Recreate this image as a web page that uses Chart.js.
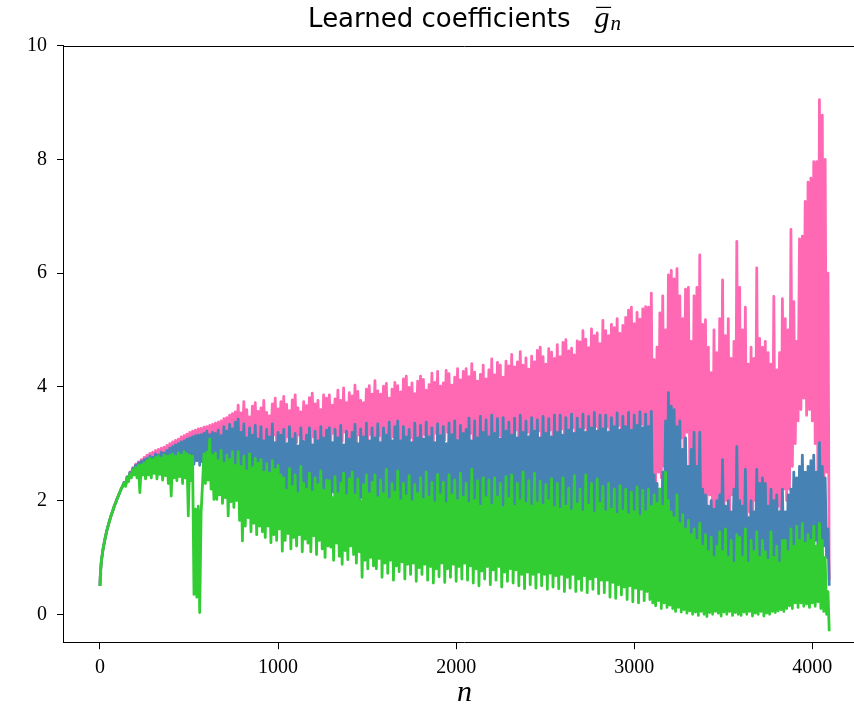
<!DOCTYPE html>
<html>
<head>
<meta charset="utf-8">
<script src="https://cdn.jsdelivr.net/npm/chart.js@4.4.0/dist/chart.umd.min.js"></script>
<style>
  html, body { margin: 0; padding: 0; background: #fff; overflow: hidden; width: 854px; height: 708px; }
  canvas { display: block; }
</style>
</head>
<body>
<canvas id="c" width="880" height="708"></canvas>
<script>
// index n of each coefficient
const nValues = [
  0, 2, 4,
  8, 16, 24, 32, 40, 48, 56, 64, 72, 80, 88, 96, 104, 112, 120, 128,
  136, 144, 152, 160, 168, 176, 184, 192, 200, 208, 216, 224, 232, 240, 248, 256,
  264, 272, 280, 288, 296, 304, 312, 320, 328, 336, 344, 352, 360, 368, 376, 384,
  392, 400, 408, 416, 424, 432, 440, 448, 456, 464, 472, 480, 488, 496, 504, 512,
  520, 528, 536, 544, 552, 560, 568, 576, 584, 592, 600, 608, 616, 624, 632, 640,
  648, 656, 664, 672, 680, 688, 696, 704, 712, 720, 728, 736, 744, 752, 760, 768,
  776, 784, 792, 800, 808, 816, 824, 832, 840, 848, 856, 864, 872, 880, 888, 896,
  904, 912, 920, 928, 936, 944, 952, 960, 968, 976, 984, 992, 1000, 1008, 1016, 1024,
  1032, 1040, 1048, 1056, 1064, 1072, 1080, 1088, 1096, 1104, 1112, 1120, 1128, 1136, 1144, 1152,
  1160, 1168, 1176, 1184, 1192, 1200, 1208, 1216, 1224, 1232, 1240, 1248, 1256, 1264, 1272, 1280,
  1288, 1296, 1304, 1312, 1320, 1328, 1336, 1344, 1352, 1360, 1368, 1376, 1384, 1392, 1400, 1408,
  1416, 1424, 1432, 1440, 1448, 1456, 1464, 1472, 1480, 1488, 1496, 1504, 1512, 1520, 1528, 1536,
  1544, 1552, 1560, 1568, 1576, 1584, 1592, 1600, 1608, 1616, 1624, 1632, 1640, 1648, 1656, 1664,
  1672, 1680, 1688, 1696, 1704, 1712, 1720, 1728, 1736, 1744, 1752, 1760, 1768, 1776, 1784, 1792,
  1800, 1808, 1816, 1824, 1832, 1840, 1848, 1856, 1864, 1872, 1880, 1888, 1896, 1904, 1912, 1920,
  1928, 1936, 1944, 1952, 1960, 1968, 1976, 1984, 1992, 2000, 2008, 2016, 2024, 2032, 2040, 2048,
  2056, 2064, 2072, 2080, 2088, 2096, 2104, 2112, 2120, 2128, 2136, 2144, 2152, 2160, 2168, 2176,
  2184, 2192, 2200, 2208, 2216, 2224, 2232, 2240, 2248, 2256, 2264, 2272, 2280, 2288, 2296, 2304,
  2312, 2320, 2328, 2336, 2344, 2352, 2360, 2368, 2376, 2384, 2392, 2400, 2408, 2416, 2424, 2432,
  2440, 2448, 2456, 2464, 2472, 2480, 2488, 2496, 2504, 2512, 2520, 2528, 2536, 2544, 2552, 2560,
  2568, 2576, 2584, 2592, 2600, 2608, 2616, 2624, 2632, 2640, 2648, 2656, 2664, 2672, 2680, 2688,
  2696, 2704, 2712, 2720, 2728, 2736, 2744, 2752, 2760, 2768, 2776, 2784, 2792, 2800, 2808, 2816,
  2824, 2832, 2840, 2848, 2856, 2864, 2872, 2880, 2888, 2896, 2904, 2912, 2920, 2928, 2936, 2944,
  2952, 2960, 2968, 2976, 2984, 2992, 3000, 3008, 3016, 3024, 3032, 3040, 3048, 3056, 3064, 3072,
  3080, 3088, 3096, 3104, 3112, 3120, 3128, 3136, 3144, 3152, 3160, 3168, 3176, 3184, 3192, 3200,
  3208, 3216, 3224, 3232, 3240, 3248, 3256, 3264, 3272, 3280, 3288, 3296, 3304, 3312, 3320, 3328,
  3336, 3344, 3352, 3360, 3368, 3376, 3384, 3392, 3400, 3408, 3416, 3424, 3432, 3440, 3448, 3456,
  3464, 3472, 3480, 3488, 3496, 3504, 3512, 3520, 3528, 3536, 3544, 3552, 3560, 3568, 3576, 3584,
  3592, 3600, 3608, 3616, 3624, 3632, 3640, 3648, 3656, 3664, 3672, 3680, 3688, 3696, 3704, 3712,
  3720, 3728, 3736, 3744, 3752, 3760, 3768, 3776, 3784, 3792, 3800, 3808, 3816, 3824, 3832, 3840,
  3848, 3856, 3864, 3872, 3880, 3888, 3896, 3904, 3912, 3920, 3928, 3936, 3944, 3952, 3960, 3968,
  3976, 3984, 3992, 4000, 4008, 4016, 4024, 4032, 4040, 4048, 4056, 4064, 4072, 4080, 4088,
  4095
];

// first series (pink)
const pinkValues = [
  0.50, 0.68, 0.78,
  0.94, 1.12, 1.26, 1.38, 1.49, 1.58, 1.67, 1.75, 1.82, 1.90, 1.96, 2.03, 2.09, 2.15, 2.21, 2.26,
  2.32, 2.28, 2.42, 2.38, 2.50, 2.46, 2.58, 2.52, 2.64, 2.58, 2.68, 2.62, 2.72, 2.64, 2.76, 2.68,
  2.80, 2.68, 2.83, 2.70, 2.85, 2.66, 2.88, 2.72, 2.90, 2.70, 2.92, 2.74, 2.94, 2.72, 2.97, 2.76,
  3.00, 2.78, 3.03, 2.80, 3.06, 2.76, 3.08, 2.82, 3.12, 2.80, 3.14, 2.84, 3.17, 2.82, 3.20, 2.86,
  3.22, 2.88, 3.24, 2.90, 3.26, 2.86, 3.27, 2.92, 3.29, 2.90, 3.30, 2.94, 3.32, 2.90, 3.34, 2.96,
  3.36, 2.98, 3.38, 3.02, 3.40, 2.96, 3.44, 3.04, 3.46, 3.00, 3.50, 3.05, 3.53, 3.02, 3.56, 3.08,
  3.68, 3.05, 3.54, 3.10, 3.74, 3.00, 3.60, 3.12, 3.47, 3.04, 3.66, 3.14, 3.72, 3.02, 3.57, 3.10,
  3.63, 3.08, 3.76, 3.00, 3.55, 3.12, 3.49, 3.05, 3.70, 3.15, 3.80, 3.02, 3.61, 3.10, 3.74, 3.00,
  3.83, 3.05, 3.69, 3.12, 3.58, 2.98, 3.77, 3.10, 3.86, 3.02, 3.63, 3.15, 3.56, 3.00, 3.74, 3.08,
  3.67, 3.10, 3.81, 3.00, 3.89, 3.12, 3.70, 2.96, 3.76, 3.08, 3.60, 3.02, 3.86, 3.14, 3.80, 3.04,
  3.86, 3.05, 3.68, 3.18, 3.79, 3.00, 3.94, 3.12, 3.76, 3.04, 3.98, 3.20, 3.72, 3.02, 3.90, 3.10,
  3.84, 3.10, 4.03, 3.00, 3.92, 3.15, 3.76, 3.05, 3.72, 3.12, 3.96, 3.02, 4.02, 3.16, 3.87, 3.06,
  4.11, 3.02, 3.93, 3.14, 3.87, 3.00, 4.01, 3.10, 4.06, 3.06, 3.80, 2.98, 3.96, 3.12, 4.08, 3.04,
  4.02, 3.08, 3.91, 2.98, 4.14, 3.12, 4.19, 3.02, 3.99, 3.10, 4.07, 2.96, 3.88, 3.14, 4.10, 3.00,
  4.19, 3.04, 4.13, 3.16, 3.94, 3.00, 4.04, 3.12, 4.24, 3.02, 4.08, 3.18, 4.27, 2.98, 4.01, 3.08,
  4.07, 3.06, 4.29, 3.20, 4.23, 3.00, 4.03, 3.14, 4.17, 3.04, 4.32, 3.10, 4.12, 2.98, 4.27, 3.16,
  4.32, 3.04, 4.18, 3.18, 4.41, 3.00, 4.26, 3.12, 4.10, 3.06, 4.22, 3.20, 4.38, 2.98, 4.14, 3.10,
  4.30, 3.06, 4.49, 3.22, 4.21, 3.02, 4.43, 3.14, 4.38, 3.00, 4.17, 3.18, 4.45, 3.04, 4.37, 3.12,
  4.57, 3.02, 4.35, 3.24, 4.44, 3.00, 4.62, 3.16, 4.38, 3.06, 4.51, 3.20, 4.31, 3.04, 4.54, 3.14,
  4.44, 3.08, 4.64, 3.22, 4.70, 3.00, 4.53, 3.18, 4.40, 3.04, 4.67, 3.24, 4.61, 3.06, 4.50, 3.16,
  4.74, 3.02, 4.53, 3.26, 4.78, 3.00, 4.83, 3.20, 4.63, 3.06, 4.68, 3.28, 4.56, 2.98, 4.81, 3.18,
  4.79, 3.04, 4.99, 3.28, 4.84, 3.00, 4.69, 3.22, 5.02, 3.08, 4.90, 3.30, 4.95, 2.98, 4.76, 3.20,
  5.17, 3.06, 4.99, 3.30, 4.90, 3.00, 5.10, 3.24, 5.04, 3.04, 5.20, 3.32, 4.94, 2.96, 5.08, 3.22,
  5.22, 3.02, 5.35, 3.28, 5.40, 3.00, 5.11, 3.22, 5.31, 3.06, 5.19, 3.34, 5.37, 2.98, 5.41, 3.24,
  5.40, 3.10, 5.65, 2.40, 4.48, 2.30, 4.70, 2.50, 5.30, 2.40, 5.60, 2.60, 5.00, 2.70, 5.97, 2.80,
  6.05, 2.90, 5.90, 3.00, 6.08, 2.70, 5.60, 3.10, 5.20, 2.80, 5.72, 3.20, 5.75, 2.60, 4.80, 2.50,
  5.60, 2.40, 5.75, 2.30, 6.32, 2.20, 5.10, 2.00, 5.18, 1.90, 4.70, 2.10, 4.25, 1.80, 5.00, 1.70,
  4.60, 1.60, 5.20, 1.90, 5.88, 1.70, 4.90, 2.00, 5.20, 1.60, 4.50, 2.10, 4.80, 1.50, 6.56, 1.80,
  5.75, 1.60, 5.00, 1.90, 5.40, 1.50, 4.40, 1.80, 4.70, 1.40, 4.50, 2.00, 6.09, 1.60, 4.85, 1.70,
  4.70, 1.50, 4.80, 1.80, 4.60, 1.60, 4.40, 2.00, 5.59, 1.70, 4.30, 1.90, 4.60, 1.60, 5.55, 2.20,
  5.20, 2.00, 5.00, 2.20, 6.77, 2.60, 5.50, 3.00, 4.80, 3.40, 6.60, 3.60, 6.65, 3.80, 7.26, 3.50,
  7.60, 3.60, 7.67, 3.40, 7.96, 3.00, 7.96, 1.80, 9.05, 2.00, 8.78, 1.60, 8.00, 2.50, 6.00,
  0.60
];

// second series (blue)
const blueValues = [
  0.50, 0.68, 0.78,
  0.94, 1.12, 1.26, 1.38, 1.49, 1.58, 1.67, 1.75, 1.82, 1.90, 1.96, 2.03, 2.09, 2.15, 2.21, 2.26,
  2.32, 2.27, 2.41, 2.36, 2.49, 2.44, 2.56, 2.50, 2.62, 2.55, 2.66, 2.58, 2.69, 2.60, 2.72, 2.62,
  2.74, 2.58, 2.78, 2.62, 2.76, 2.56, 2.82, 2.64, 2.80, 2.60, 2.85, 2.62, 2.84, 2.58, 2.88, 2.64,
  2.92, 2.62, 2.95, 2.66, 2.98, 2.60, 3.00, 2.68, 3.03, 2.62, 3.05, 2.66, 3.08, 2.60, 3.10, 2.64,
  3.12, 2.64, 3.14, 2.70, 3.15, 2.62, 3.16, 2.68, 3.18, 2.60, 3.22, 2.66, 3.16, 2.58, 3.20, 2.64,
  3.18, 2.52, 3.24, 2.58, 3.14, 2.48, 3.30, 2.55, 3.22, 2.45, 3.34, 2.52, 3.26, 2.42, 3.38, 2.50,
  3.43, 2.40, 3.20, 2.45, 3.35, 2.30, 3.10, 2.42, 3.28, 2.35, 3.15, 2.48, 3.32, 2.32, 3.08, 2.44,
  3.30, 2.28, 3.05, 2.40, 3.25, 2.25, 3.12, 2.38, 3.35, 2.22, 3.02, 2.36, 3.20, 2.30, 3.15, 2.20,
  3.25, 2.10, 3.00, 2.20, 3.30, 2.05, 3.08, 2.25, 3.18, 2.00, 2.96, 2.15, 3.28, 2.08, 3.04, 2.22,
  3.15, 2.05, 3.28, 2.18, 2.98, 2.00, 3.22, 2.12, 3.05, 1.98, 3.30, 2.16, 3.10, 2.02, 3.24, 2.10,
  3.28, 2.00, 3.02, 2.15, 3.25, 1.95, 3.10, 2.08, 3.32, 1.98, 2.98, 2.12, 3.22, 1.92, 3.08, 2.05,
  3.20, 1.95, 3.34, 2.10, 3.00, 1.90, 3.26, 2.05, 3.12, 1.88, 3.36, 2.02, 3.05, 1.92, 3.28, 2.08,
  3.10, 1.90, 3.35, 2.05, 3.02, 1.85, 3.28, 2.00, 3.15, 1.88, 3.38, 1.95, 3.05, 1.82, 3.30, 2.00,
  3.40, 1.92, 3.05, 1.80, 3.30, 1.98, 3.12, 1.78, 3.25, 1.90, 3.02, 1.85, 3.36, 1.95, 3.10, 1.80,
  3.32, 1.85, 3.08, 1.95, 3.38, 1.75, 3.12, 1.90, 3.28, 1.80, 3.02, 1.92, 3.35, 1.72, 3.14, 1.88,
  3.30, 1.78, 3.00, 1.92, 3.36, 1.74, 3.16, 1.88, 3.40, 1.70, 3.06, 1.86, 3.32, 1.76, 3.18, 1.90,
  3.25, 1.72, 3.45, 1.88, 3.05, 1.70, 3.40, 1.84, 3.10, 1.68, 3.48, 1.86, 3.20, 1.66, 3.42, 1.80,
  3.12, 1.70, 3.50, 1.85, 3.18, 1.66, 3.44, 1.82, 3.08, 1.64, 3.46, 1.80, 3.22, 1.68, 3.38, 1.84,
  3.15, 1.68, 3.45, 1.84, 3.10, 1.62, 3.50, 1.80, 3.20, 1.66, 3.40, 1.86, 3.12, 1.60, 3.46, 1.78,
  3.22, 1.64, 3.42, 1.82, 3.10, 1.60, 3.48, 1.78, 3.18, 1.62, 3.44, 1.84, 3.12, 1.58, 3.50, 1.76,
  3.20, 1.62, 3.50, 1.80, 3.15, 1.56, 3.46, 1.84, 3.24, 1.60, 3.52, 1.76, 3.18, 1.54, 3.45, 1.80,
  3.25, 1.58, 3.52, 1.78, 3.20, 1.54, 3.48, 1.82, 3.28, 1.56, 3.55, 1.74, 3.22, 1.52, 3.50, 1.78,
  3.26, 1.56, 3.50, 1.74, 3.20, 1.50, 3.46, 1.80, 3.30, 1.52, 3.54, 1.72, 3.24, 1.48, 3.48, 1.76,
  3.30, 1.54, 3.55, 1.72, 3.24, 1.48, 3.50, 1.78, 3.32, 1.50, 3.56, 1.70, 3.28, 1.46, 3.52, 1.74,
  3.30, 1.50, 3.57, 1.30, 2.45, 1.26, 2.30, 1.35, 2.20, 1.40, 2.50, 1.45, 3.40, 1.50, 3.90, 1.55,
  3.66, 1.50, 3.60, 1.40, 3.30, 1.45, 3.40, 1.35, 2.90, 1.40, 3.10, 1.30, 2.60, 1.35, 2.90, 1.25,
  3.20, 1.20, 2.60, 1.10, 3.20, 1.00, 2.20, 1.10, 2.10, 0.95, 1.90, 1.05, 2.00, 0.90, 1.85, 1.00,
  2.00, 0.85, 2.10, 1.00, 2.72, 0.80, 1.90, 0.95, 2.00, 0.75, 1.80, 0.90, 2.20, 0.70, 2.95, 0.85,
  2.00, 0.80, 1.90, 0.75, 2.55, 0.90, 1.70, 0.70, 2.00, 0.85, 1.80, 0.75, 2.55, 0.90, 2.30, 0.80,
  2.40, 0.70, 2.30, 0.90, 1.90, 0.75, 2.20, 0.85, 2.00, 0.80, 2.10, 0.90, 1.80, 0.85, 2.20, 0.95,
  1.80, 0.80, 2.10, 1.00, 2.20, 0.90, 2.50, 1.10, 2.40, 1.00, 2.60, 1.20, 2.80, 1.10, 2.50, 1.20,
  2.60, 1.10, 2.70, 1.20, 2.80, 1.30, 2.50, 1.10, 3.02, 1.30, 2.60, 1.20, 2.40, 1.00, 1.50,
  0.50
];

// third series (green)
const greenValues = [
  0.50, 0.68, 0.78,
  0.94, 1.12, 1.26, 1.38, 1.49, 1.58, 1.67, 1.75, 1.82, 1.90, 1.96, 2.03, 2.09, 2.15, 2.21, 2.26,
  2.31, 2.25, 2.40, 2.33, 2.47, 2.40, 2.54, 2.45, 2.58, 2.40, 2.62, 2.14, 2.63, 2.45, 2.66, 2.38,
  2.70, 2.45, 2.74, 2.40, 2.72, 2.48, 2.76, 2.38, 2.78, 2.46, 2.75, 2.36, 2.80, 2.44, 2.78, 2.30,
  2.80, 2.08, 2.82, 2.40, 2.78, 2.35, 2.84, 2.42, 2.80, 2.30, 2.86, 2.40, 2.82, 1.73, 2.80, 2.35,
  2.78, 0.35, 1.85, 0.30, 1.90, 0.03, 1.80, 2.30, 2.82, 2.30, 2.85, 2.36, 3.08, 2.20, 2.80, 2.02,
  2.84, 2.02, 2.70, 2.10, 2.88, 1.95, 2.66, 2.05, 2.80, 1.73, 2.72, 1.98, 2.86, 1.88, 2.62, 2.00,
  2.86, 1.65, 2.60, 1.29, 2.78, 1.55, 2.52, 1.70, 2.82, 1.45, 2.58, 1.60, 2.74, 1.40, 2.66, 1.55,
  2.72, 1.45, 2.50, 1.35, 2.65, 1.55, 2.48, 1.26, 2.70, 1.40, 2.55, 1.30, 2.62, 1.50, 2.45, 1.11,
  2.40, 1.30, 2.18, 1.42, 2.56, 1.15, 2.25, 1.35, 2.45, 1.20, 2.12, 1.40, 2.60, 1.10, 2.30, 1.32,
  2.20, 1.25, 2.48, 1.10, 2.15, 1.38, 2.40, 1.05, 2.28, 1.30, 2.52, 1.15, 2.18, 1.00, 2.36, 1.20,
  2.35, 1.18, 2.05, 0.95, 2.42, 1.25, 2.12, 1.02, 2.30, 0.88, 2.48, 1.12, 2.08, 0.96, 2.38, 1.20,
  2.50, 1.05, 2.10, 0.90, 2.38, 1.10, 2.00, 0.65, 2.28, 0.95, 2.45, 0.80, 2.12, 1.00, 2.32, 0.85,
  2.45, 0.80, 2.05, 0.98, 2.36, 0.65, 2.12, 0.90, 2.55, 0.72, 2.02, 0.95, 2.30, 0.60, 2.15, 0.85,
  2.52, 0.75, 2.00, 0.92, 2.30, 0.62, 2.08, 0.88, 2.44, 0.70, 1.98, 0.90, 2.28, 0.58, 2.12, 0.82,
  2.40, 0.70, 2.02, 0.88, 2.50, 0.60, 2.06, 0.84, 2.32, 0.55, 1.96, 0.80, 2.46, 0.66, 2.10, 0.90,
  2.32, 0.56, 1.95, 0.80, 2.45, 0.65, 2.10, 0.88, 2.36, 0.58, 2.00, 0.84, 2.48, 0.62, 2.06, 0.90,
  2.30, 0.60, 1.95, 0.85, 2.55, 0.55, 2.00, 0.80, 2.35, 0.50, 1.90, 0.76, 2.40, 0.62, 2.05, 0.84,
  2.36, 0.52, 1.92, 0.78, 2.40, 0.60, 2.06, 0.84, 2.30, 0.48, 1.88, 0.74, 2.42, 0.58, 2.04, 0.80,
  2.45, 0.55, 1.90, 0.78, 2.30, 0.50, 2.00, 0.70, 2.50, 0.45, 1.95, 0.74, 2.35, 0.52, 1.90, 0.70,
  2.48, 0.46, 1.96, 0.74, 2.34, 0.50, 1.92, 0.70, 2.28, 0.44, 2.00, 0.72, 2.38, 0.48, 1.88, 0.68,
  2.30, 0.45, 1.85, 0.70, 2.40, 0.40, 1.90, 0.65, 2.22, 0.46, 1.82, 0.70, 2.44, 0.40, 1.94, 0.62,
  2.20, 0.42, 1.80, 0.68, 2.45, 0.38, 1.92, 0.62, 2.30, 0.44, 1.78, 0.66, 2.38, 0.36, 1.95, 0.60,
  2.25, 0.38, 1.80, 0.60, 2.30, 0.30, 1.85, 0.56, 2.20, 0.28, 1.76, 0.52, 2.26, 0.34, 1.82, 0.48,
  2.20, 0.26, 1.75, 0.50, 2.15, 0.22, 1.80, 0.46, 2.24, 0.20, 1.72, 0.44, 2.18, 0.24, 1.80, 0.40,
  2.20, 0.26, 1.90, 0.20, 2.10, 0.15, 1.95, 0.24, 2.20, 0.10, 1.90, 0.20, 2.50, 0.12, 2.00, 0.16,
  1.80, 0.10, 1.70, 0.05, 2.10, 0.12, 1.60, 0.04, 1.75, 0.08, 1.50, 0.02, 1.65, 0.06, 1.40, 0.00,
  1.50, 0.04, 1.30, -0.02, 1.60, 0.05, 1.20, 0.00, 1.40, -0.04, 1.10, 0.03, 1.35, 0.00, 1.00, 0.05,
  1.20, 0.02, 1.45, -0.03, 1.10, 0.04, 1.50, 0.00, 1.00, 0.05, 1.30, -0.02, 0.90, 0.03, 1.40, 0.00,
  1.35, -0.02, 1.00, 0.04, 1.50, 0.00, 0.90, 0.05, 1.30, -0.03, 1.10, 0.02, 1.45, 0.00, 1.00, 0.05,
  1.30, -0.03, 1.10, 0.02, 0.95, 0.00, 1.45, 0.05, 1.00, 0.03, 1.20, 0.06, 0.90, 0.08, 1.30, 0.05,
  1.30, 0.10, 1.10, 0.15, 1.50, 0.10, 1.20, 0.20, 1.55, 0.12, 1.30, 0.20, 1.60, 0.14, 1.25, 0.18,
  1.40, 0.12, 1.30, 0.20, 1.55, 0.14, 1.20, 0.22, 1.60, 0.10, 1.30, 0.05, 1.00, 0.00, 0.40,
  -0.30
];

const xTickValues = [0, 1000, 2000, 3000, 4000];
const yTickValues = [0, 2, 4, 6, 8, 10];
const titleText = 'Learned coefficients';

function toPoints(values) {
  return nValues.map((n, i) => ({ x: n, y: values[i] }));
}

function seriesStyle(color) {
  return {
    borderColor: color,
    backgroundColor: color,
    borderWidth: 2.8,
    pointRadius: 0,
    pointHoverRadius: 0,
    fill: false,
    tension: 0,
    borderJoinStyle: 'round'
  };
}

// title with an overlined, subscripted symbol; plus the top frame line
const framePlugin = {
  id: 'frameAndTitle',
  afterDraw(chart) {
    const { ctx, chartArea: a } = chart;
    ctx.save();
    ctx.strokeStyle = '#000';
    ctx.lineWidth = 1;
    ctx.beginPath();
    ctx.moveTo(a.left, Math.round(a.top) + 0.5);
    ctx.lineTo(a.right, Math.round(a.top) + 0.5);
    ctx.stroke();

    const fText = '26px "DejaVu Sans", sans-serif';
    const fSym = 'italic 30px "Liberation Serif", serif';
    const fSub = 'italic 21px "Liberation Serif", serif';
    ctx.fillStyle = '#000';
    ctx.textAlign = 'left';
    ctx.textBaseline = 'alphabetic';
    ctx.font = fText; const w1 = ctx.measureText(titleText).width;
    ctx.font = fSym;  const w2 = ctx.measureText('g').width;
    ctx.font = fSub;  const w3 = ctx.measureText('n').width;
    const gap = 24, subGap = 1;
    const total = w1 + gap + w2 + subGap + w3;
    let x = (a.left + a.right) / 2 - total / 2;
    const base = 27;
    ctx.font = fText; ctx.fillText(titleText, x, base);
    x += w1 + gap;
    ctx.font = fSym; ctx.fillText('g', x, base);
    ctx.fillRect(x + 1.5, 6.8, w2, 1.2);
    x += w2 + subGap;
    ctx.font = fSub; ctx.fillText('n', x, base + 3);
    ctx.restore();
  }
};

const tickFont = { family: '"Liberation Serif", serif', size: 20 };

new Chart(document.getElementById('c'), {
  type: 'line',
  data: {
    datasets: [
      Object.assign({ label: 'green', data: toPoints(greenValues) }, seriesStyle('#32CD32')),
      Object.assign({ label: 'blue', data: toPoints(blueValues) }, seriesStyle('#4682B4')),
      Object.assign({ label: 'pink', data: toPoints(pinkValues) }, seriesStyle('#FF69B4'))
    ]
  },
  options: {
    responsive: false,
    animation: false,
    devicePixelRatio: 1,
    events: [],
    layout: { padding: { left: 0, top: 45.7, right: 14.3, bottom: 0 } },
    plugins: {
      legend: { display: false },
      tooltip: { enabled: false },
      title: { display: false }
    },
    scales: {
      x: {
        type: 'linear',
        min: -204.75,
        max: 4299.75,
        afterBuildTicks: s => { s.ticks = xTickValues.map(v => ({ value: v })); },
        afterFit: s => { s.height = 65.3; },
        grid: { display: true, drawOnChartArea: false, drawTicks: true, tickLength: 6.5, tickWidth: 1, tickColor: '#000' },
        border: { display: true, color: '#000', width: 1 },
        ticks: { callback: v => String(v), font: tickFont, color: '#000', padding: 7, maxRotation: 0, autoSkip: false },
        title: {
          display: true, text: 'n', color: '#000',
          font: { family: '"Liberation Serif", serif', style: 'italic', size: 30, lineHeight: 1 },
          padding: { top: 0, bottom: 0 }
        }
      },
      y: {
        type: 'linear',
        min: -0.5,
        max: 10,
        afterBuildTicks: s => { s.ticks = yTickValues.map(v => ({ value: v })); },
        afterFit: s => { s.width = 63.5; },
        grid: { display: true, drawOnChartArea: false, drawTicks: true, tickLength: 6.5, tickWidth: 1, tickColor: '#000' },
        border: { display: true, color: '#000', width: 1 },
        ticks: { callback: v => String(v), font: tickFont, color: '#000', padding: 10 }
      }
    }
  },
  plugins: [framePlugin]
});
</script>
</body>
</html>
